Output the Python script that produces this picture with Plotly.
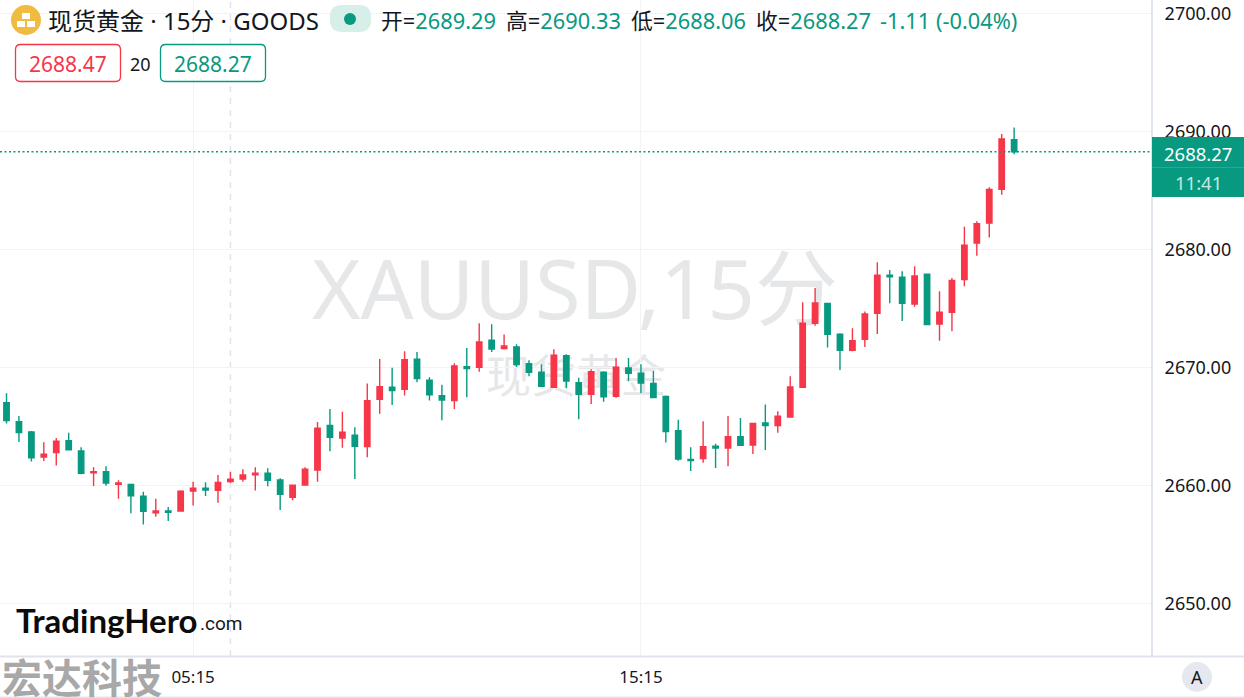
import plotly.graph_objects as go

# index, one per 15-minute bar
highs = [2667.80,2665.88,2664.60,2663.64,2664.01,2664.46,2663.22,2661.53,2661.61,2660.42,
         2660.14,2659.46,2658.87,2658.16,2659.58,2660.31,2660.25,2660.88,2661.13,2661.36,
         2661.53,2661.44,2660.59,2660.06,2661.53,2665.37,2666.47,2666.24,2664.92,2668.62,
         2670.71,2669.97,2671.36,2671.30,2669.15,2668.53,2670.34,2671.64,2673.73,2673.64,
         2672.77,2671.95,2670.59,2670.25,2671.53,2671.10,2669.12,2669.83,2669.66,2670.79,
         2670.79,2670.25,2669.69,2667.60,2665.56,2663.22,2665.42,2663.53,2665.88,2665.71,
         2665.25,2666.84,2666.27,2669.24,2675.51,2676.72,2675.48,2672.88,2673.31,2674.72,
         2678.90,2678.25,2678.14,2678.56,2677.88,2676.44,2677.57,2681.92,2682.37,2685.25,
         2689.77,2690.33]
lows = [2665.23,2663.67,2662.01,2662.06,2661.67,2663.00,2660.93,2659.94,2659.97,2658.87,
        2657.63,2656.67,2657.34,2656.98,2657.80,2658.28,2659.10,2658.53,2660.20,2660.31,
        2659.55,2659.92,2657.91,2658.73,2659.97,2660.31,2662.88,2663.19,2660.54,2662.37,
        2666.07,2666.81,2667.60,2668.73,2667.18,2665.51,2666.47,2667.46,2669.63,2671.30,
        2671.50,2670.03,2669.24,2668.33,2668.28,2668.22,2665.59,2666.89,2667.09,2667.43,
        2668.81,2667.80,2667.40,2663.62,2662.09,2661.21,2661.92,2661.47,2661.61,2663.39,
        2662.66,2662.99,2664.46,2665.73,2668.25,2673.53,2671.67,2669.77,2671.36,2671.72,
        2672.82,2675.42,2673.93,2675.14,2673.62,2672.26,2673.05,2676.86,2679.46,2680.99,
        2684.63,2688.06]
opens = [2667.01,2665.40,2664.52,2662.40,2662.77,2663.79,2662.91,2661.05,2661.16,2660.08,
         2660.08,2659.07,2657.68,2657.82,2657.82,2659.52,2659.75,2659.58,2660.31,2660.54,
         2660.88,2661.02,2660.45,2658.98,2660.03,2661.30,2665.08,2664.01,2664.24,2663.28,
         2667.29,2668.31,2668.14,2670.68,2668.90,2667.60,2667.18,2670.06,2670.00,2672.29,
         2671.58,2671.72,2670.31,2669.58,2668.31,2670.99,2668.70,2667.71,2669.58,2667.54,
         2669.94,2669.49,2668.64,2667.52,2664.63,2662.20,2662.26,2663.31,2663.16,2664.12,
         2663.42,2665.28,2665.06,2665.79,2668.31,2673.73,2675.42,2672.80,2671.44,2672.37,
         2674.58,2677.80,2677.63,2675.37,2677.88,2673.67,2674.66,2677.43,2680.54,2682.23,
         2685.08,2689.29]
closes = [2665.48,2664.46,2662.32,2662.63,2663.73,2663.00,2661.02,2661.16,2660.20,2660.20,
          2659.10,2657.80,2657.82,2657.71,2659.49,2659.75,2659.60,2660.25,2660.51,2660.88,
          2661.02,2660.42,2659.24,2660.00,2661.36,2664.83,2664.07,2664.49,2663.31,2667.18,
          2668.36,2668.02,2670.65,2669.04,2667.68,2667.23,2670.11,2669.89,2672.15,2671.55,
          2671.81,2670.23,2669.58,2668.39,2671.02,2668.84,2667.71,2669.63,2667.51,2670.00,
          2669.49,2668.67,2667.43,2664.55,2662.23,2662.09,2663.28,2663.16,2664.12,2663.39,
          2665.25,2665.06,2665.85,2668.33,2673.73,2675.45,2672.80,2671.44,2672.26,2674.52,
          2677.80,2677.66,2675.42,2677.74,2673.62,2674.66,2677.37,2680.34,2682.18,2685.08,
          2689.35,2688.27]
bar_index = list(range(len(closes)))

x_tick_positions = [15, 51]
x_tick_labels = ["05:15", "15:15"]
y_ticks = [2650, 2660, 2670, 2680, 2690, 2700]
last_close = 2688.27
crosshair_index = 18

UP = "#f63649"
DOWN = "#089981"
GRID = "#f2f3f5"
BORDER = "#e0e3eb"
FONT = "Noto Sans, Noto Sans CJK SC, sans-serif"
CJK = "Noto Sans CJK SC, sans-serif"

W, H, PW, PH = 1244, 698, 1152, 656
def xp(v): return v / PW
def yp(v): return (PH - v) / PH

def rect(x0, y0, x1, y1, **kw):
    return dict(type="rect", xref="paper", yref="paper", x0=xp(x0), x1=xp(x1), y0=yp(y0), y1=yp(y1), **kw)

def rrect(x0, y0, x1, y1, r, **kw):
    X0, X1, Y0, Y1, rx, ry = xp(x0), xp(x1), yp(y0), yp(y1), r / PW, r / PH
    path = (f"M{X0+rx},{Y0} L{X1-rx},{Y0} Q{X1},{Y0} {X1},{Y0-ry} L{X1},{Y1+ry} Q{X1},{Y1} {X1-rx},{Y1} "
            f"L{X0+rx},{Y1} Q{X0},{Y1} {X0},{Y1+ry} L{X0},{Y0-ry} Q{X0},{Y0} {X0+rx},{Y0} Z")
    return dict(type="path", xref="paper", yref="paper", path=path, **kw)

def circle(cx, cy, r, **kw):
    return rect(cx - r, cy - r, cx + r, cy + r, **kw) | dict(type="circle")

def text(s, x, y, size, color="#131722", anchor="left", family=FONT):
    return dict(text=s, xref="paper", yref="paper", x=xp(x), y=yp(y), xanchor=anchor, yanchor="middle",
                showarrow=False, font=dict(size=size, color=color, family=family))

def watermark(s, x0, y0, x1, y1, size):
    return rect(x0, y0, x1, y1, layer="below", line=dict(width=0), fillcolor="rgba(0,0,0,0)",
                label=dict(text=s, textposition="middle center", font=dict(size=size, color="#e6e7e9", family=FONT)))

fig = go.Figure(go.Candlestick(
    x=bar_index, open=opens, high=highs, low=lows, close=closes,
    increasing=dict(line=dict(color=UP, width=1.4), fillcolor=UP),
    decreasing=dict(line=dict(color=DOWN, width=1.4), fillcolor=DOWN),
    whiskerwidth=0, showlegend=False,
))

shapes = [
    watermark("XAUUSD,15分", 300, 247, 850, 337, 83),
    watermark("现货黄金", 471, 352, 681, 404, 45),
    dict(type="line", xref="x", yref="paper", x0=crosshair_index, x1=crosshair_index, y0=0, y1=1,
         line=dict(color=BORDER, width=1.5, dash="6px,6px"), layer="below"),
    dict(type="line", xref="paper", yref="y", x0=0, x1=1, y0=last_close, y1=last_close,
         line=dict(color=DOWN, width=1.5, dash="2px,2.5px")),
    rect(1151, 0, 1153, 656, fillcolor=BORDER, line=dict(width=0)),
    rect(0, 655.5, 1244, 657.5, fillcolor=BORDER, line=dict(width=0)),
    rect(0, 696.5, 1244, 698, fillcolor=BORDER, line=dict(width=0)),
    rect(1152, 137, 1244, 197, fillcolor=DOWN, line=dict(width=0)),
    rect(1152, 167, 1244, 168, fillcolor="#2aa892", line=dict(width=0)),
    circle(26, 20, 15, fillcolor="#f0bb41", line=dict(width=0)),
    rect(22, 13, 30, 19, fillcolor="white", line=dict(width=0)),
    rect(17, 21, 25, 27, fillcolor="white", line=dict(width=0)),
    rect(27, 21, 35, 27, fillcolor="white", line=dict(width=0)),
    rrect(330, 5, 371, 32, 12, fillcolor="#d6efe9", line=dict(width=0)),
    circle(350, 19, 6, fillcolor=DOWN, line=dict(width=0)),
    rrect(15.5, 44.5, 120.5, 81.5, 5, fillcolor="white", line=dict(color=UP, width=1.3)),
    rrect(160.5, 44.5, 265.5, 81.5, 5, fillcolor="white", line=dict(color=DOWN, width=1.3)),
    circle(1197, 677, 15, fillcolor="#e6e8f0", line=dict(width=0)),
]

g = lambda s: f'<span style="color:{DOWN}">{s}</span>'
annotations = [
    text("现货黄金 · 15分 · GOODS", 46, 21, 24),
    text("开=" + g("2689.29"), 379, 21, 21.8),
    text("高=" + g("2690.33"), 504, 21, 21.8),
    text("低=" + g("2688.06"), 629, 21, 21.8),
    text("收=" + g("2688.27"), 754, 21, 21.8),
    text(g("-1.11 (-0.04%)"), 878, 21, 21.8),
    text("2688.47", 68, 64, 21, UP, "center"),
    text("20", 140, 64, 18, "#131722", "center"),
    text("2688.27", 213, 64, 21, DOWN, "center"),
    text("2688.27", 1198, 153, 18.5, "white", "center"),
    text("11:41", 1198, 183, 18.5, "#c5e8e1", "center"),
    text("<b>TradingHero</b>", 14, 620, 33, "#0b0b0b", "left", "Lato, sans-serif"),
    text(".com", 198, 623, 19, "#131722", "left", "Roboto, sans-serif"),
    text("<b>宏达科技</b>", 0, 676, 40, "#a8a8a8", "left", CJK),
    text("A", 1197, 677, 18, "#131722", "center"),
]

OFFSET, STEP = 6.5, 12.44
fig.update_layout(
    width=W, height=H, margin=dict(l=0, r=W - PW, t=0, b=H - PH),
    paper_bgcolor="white", plot_bgcolor="white", boxgap=0.38,
    font=dict(family=FONT, size=17, color="#131722"),
    shapes=shapes, annotations=annotations,
    xaxis=dict(range=[-OFFSET / STEP, (PW - OFFSET) / STEP], tickmode="array", tickvals=x_tick_positions,
               ticktext=x_tick_labels, showgrid=True, gridcolor=GRID, gridwidth=1, zeroline=False,
               rangeslider=dict(visible=False), ticks="outside", ticklen=6, tickcolor="rgba(0,0,0,0)",
               tickfont=dict(size=17, color="#131722"), showline=False),
    yaxis=dict(side="right", range=[2690 - (PH - 131.3) / 11.8, 2690 + 131.3 / 11.8], tickmode="array",
               tickvals=y_ticks, tickformat=".2f", showgrid=True, gridcolor=GRID, gridwidth=1, zeroline=False,
               ticks="outside", ticklen=8, tickcolor="rgba(0,0,0,0)", tickfont=dict(size=18, color="#131722"),
               showline=False),
)

fig.write_html("out.html", config=dict(displayModeBar=False), post_script="document.body.style.margin='0';")
